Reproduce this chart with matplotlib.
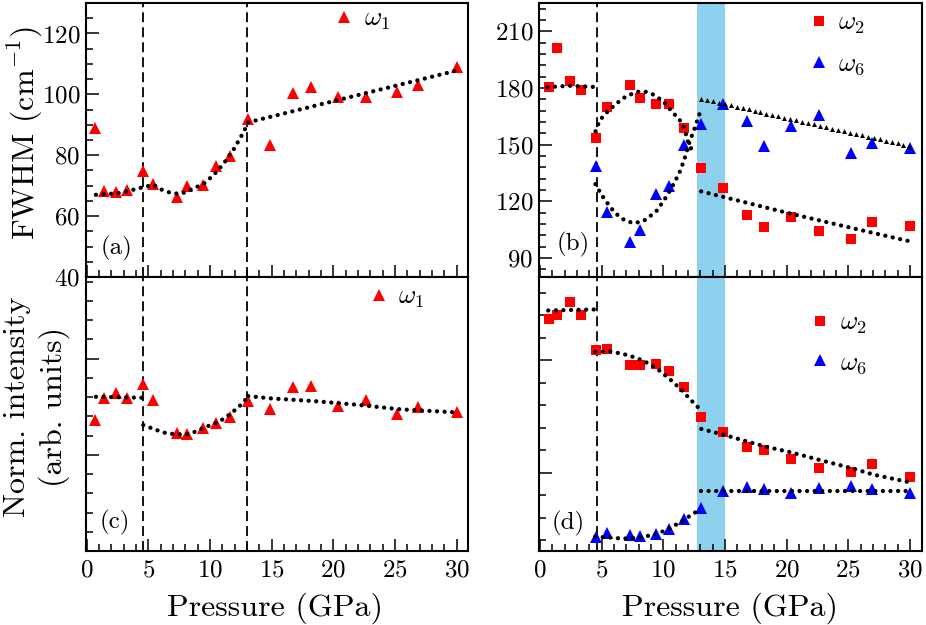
import numpy as np
import matplotlib
matplotlib.use("Agg")
import matplotlib.pyplot as plt
from matplotlib import patheffects
from matplotlib.markers import MarkerStyle
from matplotlib.path import Path
from matplotlib.transforms import IdentityTransform
from matplotlib.ticker import MultipleLocator, AutoMinorLocator

# ---- measured points (pressure in GPa) ----
pressure = [0.7, 1.4, 2.4, 3.3, 4.55, 5.4, 7.3, 8.1, 9.4, 10.45,
            11.65, 13.05, 14.85, 16.75, 18.17, 20.35, 22.66, 25.2, 26.9, 30.0]
pressure_w6 = pressure[4:]

fwhm_w1 = [89.1, 68.1, 67.8, 68.5, 74.9, 70.6, 66.4, 69.9, 70.3, 76.5,
           79.6, 91.9, 83.4, 100.5, 102.5, 99.0, 99.2, 100.9, 103.1, 109.1]
fwhm_w2 = [180.4, 201.2, 183.5, 178.8, 153.5, 169.8, 181.8, 174.7, 171.5, 171.7,
           158.8, 137.6, 127.1, 112.9, 106.7, 111.5, 104.1, 100.2, 109.1, 107.1]
fwhm_w6 = [138.5, 114.4, 98.5, 104.8, 123.9, 128.3, 150.0, 160.9, 171.5, 162.7,
           149.5, 160.1, 165.5, 145.6, 150.9, 148.2]

int_w1 = [6.81, 7.94, 8.20, 7.94, 8.67, 7.85, 6.12, 6.08, 6.38, 6.64,
          6.95, 7.80, 7.37, 8.54, 8.60, 7.54, 7.85, 7.11, 7.50, 7.21]
int_w2 = [9.82, 10.03, 10.59, 10.03, 8.47, 8.51, 7.80, 7.80, 7.85, 7.55,
          6.81, 5.50, 4.80, 4.16, 4.03, 3.60, 3.22, 3.02, 3.39, 2.79]
int_w6 = [0.16, 0.30, 0.22, 0.19, 0.27, 0.49, 0.94, 1.43, 2.20, 2.35,
          2.27, 2.10, 2.32, 2.42, 2.27, 2.12]

# ---- guide-to-the-eye curves ----
fit_a_p = [0.75, 2.5, 3.5, 4.05, 4.7, 5.4, 6.0, 6.7, 7.4, 8.0, 8.6, 9.45, 10.3, 11.1, 11.9, 12.7, 13.1, 30.0]
fit_a = [67.0, 67.5, 68.3, 69.0, 69.6, 70.3, 68.8, 67.8, 67.3, 67.8, 69.0, 70.5, 73.5, 77.2, 81.8, 87.4, 90.8, 107.8]

fit_b1_p = [0.6, 2.4, 4.3]
fit_b1 = [180.5, 181.2, 180.6]
fit_b_up_p = [4.5, 4.85, 5.4, 5.9, 6.7, 7.8, 8.5, 9.2, 10.0, 10.8, 11.3, 11.7, 12.07, 12.55]
fit_b_up = [157.1, 163.0, 167.0, 170.0, 174.5, 178.0, 178.2, 176.5, 173.0, 166.8, 163.5, 158.8, 150.0, 145.0]
fit_b_lo_p = [4.5, 4.95, 5.5, 6.1, 6.8, 7.55, 8.35, 8.9, 9.45, 9.9, 10.35, 10.8, 11.3, 11.7, 12.1, 12.55, 13.05]
fit_b_lo = [129.2, 123.9, 118.8, 113.8, 110.3, 108.5, 109.4, 112.0, 115.0, 119.1, 123.5, 128.8, 135.0, 142.0, 150.9, 158.8, 168.5]
fit_b_w2_p = [13.07, 20.4, 25.24, 30.05]
fit_b_w2 = [125.3, 113.4, 106.0, 98.8]
fit_b_w6_p = [13.05, 30.05]
fit_b_w6 = [174.4, 149.1]

fit_c1_p = [0.75, 4.64]
fit_c1 = [8.02, 7.97]
fit_c2_p = [4.59, 5.67, 6.48, 7.29, 8.1, 8.78, 9.59, 10.4, 11.2, 12.03, 12.57, 12.98]
fit_c2 = [6.55, 6.29, 6.12, 6.07, 6.07, 6.20, 6.43, 6.64, 6.90, 7.33, 7.64, 7.94]
fit_c3_p = [13.1, 14.85, 18.36, 21.87, 25.4, 29.98]
fit_c3 = [8.06, 7.94, 7.80, 7.61, 7.37, 7.21]

fit_d_w2_1_p = [0.67, 4.7]
fit_d_w2_1 = [10.22, 10.27]
fit_d_w2_2_p = [4.48, 5.65, 6.73, 7.82, 8.5, 9.45, 10.27, 10.82, 11.22, 11.69, 12.12, 12.58, 13.05]
fit_d_w2_2 = [8.37, 8.40, 8.29, 8.11, 7.95, 7.65, 7.28, 7.03, 6.81, 6.58, 6.29, 6.06, 5.77]
fit_d_w2_3_p = [13.08, 14.84, 18.16, 20.35, 22.68, 25.24, 27.1, 30.05]
fit_d_w2_3 = [4.95, 4.70, 4.18, 3.91, 3.57, 3.21, 2.91, 2.57]
fit_d_w6_1_p = [4.48, 5.65, 6.73, 8.1, 9.45, 10.54, 11.63, 12.45, 13.05]
fit_d_w6_1 = [0.16, 0.12, 0.07, 0.12, 0.27, 0.53, 0.89, 1.19, 1.38]
fit_d_w6_2_p = [13.08, 30.05]
fit_d_w6_2 = [2.20, 2.20]

transitions = [4.6, 13.0]
band = (12.7, 15.0)

plt.rcParams.update({
    "font.family": "serif",
    "font.serif": ["cmr10"],
    "mathtext.fontset": "cm",
    "axes.formatter.use_mathtext": True,
    "axes.linewidth": 1.5,
    "xtick.direction": "in",
    "ytick.direction": "in",
    "xtick.major.size": 9,
    "ytick.major.size": 9,
    "xtick.minor.size": 5,
    "ytick.minor.size": 5,
    "xtick.major.width": 1.1,
    "ytick.major.width": 1.1,
    "xtick.minor.width": 1.1,
    "ytick.minor.width": 1.1,
    "xtick.labelsize": 18,
    "ytick.labelsize": 18,
    "xtick.major.pad": 6,
    "ytick.major.pad": 4,
})


class TriangleTrail(patheffects.AbstractPathEffect):
    """Put small filled triangles along a path every `step` points."""

    def __init__(self, step=4.4, size=3.6):
        super().__init__()
        self.step = step
        self.size = size

    def draw_path(self, renderer, gc, tpath, affine, rgbFace=None):
        xy = affine.transform(tpath.vertices)
        dist = np.concatenate([[0], np.cumsum(np.hypot(*np.diff(xy, axis=0).T))])
        s = np.arange(0, dist[-1] + 1e-6, renderer.points_to_pixels(self.step))
        where = np.column_stack([np.interp(s, dist, xy[:, 0]), np.interp(s, dist, xy[:, 1])])
        m = MarkerStyle("^")
        mtrans = m.get_transform().scale(renderer.points_to_pixels(self.size))
        renderer.draw_markers(gc, m.get_path(), mtrans, Path(where), IdentityTransform(), (0, 0, 0, 1))


DOTS = dict(color="k", lw=3.1, ls=(0, (0.01, 1.75)), dash_capstyle="round", zorder=4)


def dotted(ax, p, y):
    ax.plot(p, y, **DOTS)


def triangles(ax, p, y):
    ax.plot(p, y, color="k", lw=0, zorder=4, path_effects=[TriangleTrail()])


def vdash(ax, x):
    ax.axvline(x, color="k", lw=1.3, dashes=(5.5, 2.8), zorder=1)


W, H = 926, 625
fig = plt.figure(figsize=(W / 100, H / 100), dpi=100)


def box(x0, y_top, w, h):
    return [x0 / W, 1 - (y_top + h) / H, w / W, h / H]


ax_a = fig.add_axes(box(85.7, 3, 382.6, 274))
ax_b = fig.add_axes(box(539.0, 3, 382.6, 274))
ax_c = fig.add_axes(box(85.7, 277, 382.6, 274))
ax_d = fig.add_axes(box(539.0, 277, 382.6, 274))

for ax in (ax_a, ax_b, ax_c, ax_d):
    ax.set_xlim(-0.08, 30.95)
    ax.xaxis.set_major_locator(MultipleLocator(5))
    ax.xaxis.set_minor_locator(MultipleLocator(1))
    ax.tick_params(which="both", top=False, right=False)
for ax in (ax_a, ax_b):
    ax.tick_params(labelbottom=False)

# (a) FWHM of w1
ax_a.set_ylim(40, 130)
ax_a.yaxis.set_major_locator(MultipleLocator(20))
ax_a.yaxis.set_minor_locator(MultipleLocator(5))
for t in transitions:
    vdash(ax_a, t)
ax_a.plot(pressure, fwhm_w1, "^", color="red", ms=8, mew=0, zorder=3, label=r"$\omega_1$")
dotted(ax_a, fit_a_p, fit_a)

# (b) FWHM of w2 and w6
ax_b.set_ylim(80, 225)
ax_b.yaxis.set_major_locator(MultipleLocator(30))
ax_b.yaxis.set_minor_locator(AutoMinorLocator(5))
ax_b.axvspan(*band, color="#8ed1ee", lw=0, zorder=0)
vdash(ax_b, transitions[0])
ax_b.plot(pressure, fwhm_w2, "s", color="red", ms=6.6, mew=0, zorder=3, label=r"$\omega_2$")
ax_b.plot(pressure_w6, fwhm_w6, "^", color="blue", ms=8, mew=0, zorder=3, label=r"$\omega_6$")
dotted(ax_b, fit_b1_p, fit_b1)
dotted(ax_b, fit_b_up_p, fit_b_up)
dotted(ax_b, fit_b_lo_p, fit_b_lo)
dotted(ax_b, fit_b_w2_p, fit_b_w2)
triangles(ax_b, fit_b_w6_p, fit_b_w6)

# (c) intensity of w1
ax_c.set_ylim(0, 14.25)
ax_c.yaxis.set_major_locator(MultipleLocator(5))
ax_c.yaxis.set_minor_locator(MultipleLocator(1))
ax_c.tick_params(labelleft=False)
for t in transitions:
    vdash(ax_c, t)
ax_c.plot(pressure, int_w1, "^", color="red", ms=8, mew=0, zorder=3, label=r"$\omega_1$")
dotted(ax_c, fit_c1_p, fit_c1)
dotted(ax_c, fit_c2_p, fit_c2)
dotted(ax_c, fit_c3_p, fit_c3)

# (d) intensity of w2 and w6
ax_d.set_ylim(-0.48, 11.71)
ax_d.yaxis.set_major_locator(MultipleLocator(5, offset=3))
ax_d.yaxis.set_minor_locator(MultipleLocator(1))
ax_d.tick_params(labelleft=False)
ax_d.axvspan(*band, color="#8ed1ee", lw=0, zorder=0)
vdash(ax_d, transitions[0])
ax_d.plot(pressure, int_w2, "s", color="red", ms=6.6, mew=0, zorder=3, label=r"$\omega_2$")
ax_d.plot(pressure_w6, int_w6, "^", color="blue", ms=8, mew=0, zorder=3, label=r"$\omega_6$")
dotted(ax_d, fit_d_w2_1_p, fit_d_w2_1)
dotted(ax_d, fit_d_w2_2_p, fit_d_w2_2)
dotted(ax_d, fit_d_w2_3_p, fit_d_w2_3)
dotted(ax_d, fit_d_w6_1_p, fit_d_w6_1)
dotted(ax_d, fit_d_w6_2_p, fit_d_w6_2)

# legends
leg_kw = dict(frameon=False, numpoints=1, handlelength=0.6, handletextpad=0.45,
              borderpad=0, borderaxespad=0, fontsize=19, loc="upper left")
ax_a.legend(bbox_to_anchor=(0.655, 0.985), **leg_kw)
ax_c.legend(bbox_to_anchor=(0.745, 0.97), **leg_kw)
ax_b.legend(bbox_to_anchor=(0.71, 0.97), labelspacing=0.6, **leg_kw)
ax_d.legend(bbox_to_anchor=(0.715, 0.875), labelspacing=0.55, **leg_kw)

# panel tags
for ax, tag, (tx, ty) in [(ax_a, "(a)", (0.08, 0.106)), (ax_b, "(b)", (0.089, 0.12)),
                          (ax_c, "(c)", (0.076, 0.103)), (ax_d, "(d)", (0.076, 0.10))]:
    ax.text(tx, ty, tag, transform=ax.transAxes, fontsize=18, ha="center", va="center")

# axis labels
fig.text(25 / W, 1 - 133 / H, r"FWHM (cm$^{-1}$)", rotation=90, fontsize=23, ha="center", va="center")
fig.text(37 / W, 1 - 407 / H, "Norm. intensity\n(arb. units)", rotation=90, fontsize=23,
         ha="center", va="center", multialignment="center", linespacing=1.3)
fig.text(275 / W, 1 - 608 / H, "Pressure (GPa)", fontsize=23, ha="center", va="center")
fig.text(730 / W, 1 - 608 / H, "Pressure (GPa)", fontsize=23, ha="center", va="center")

fig.savefig("out.png", dpi=100)
